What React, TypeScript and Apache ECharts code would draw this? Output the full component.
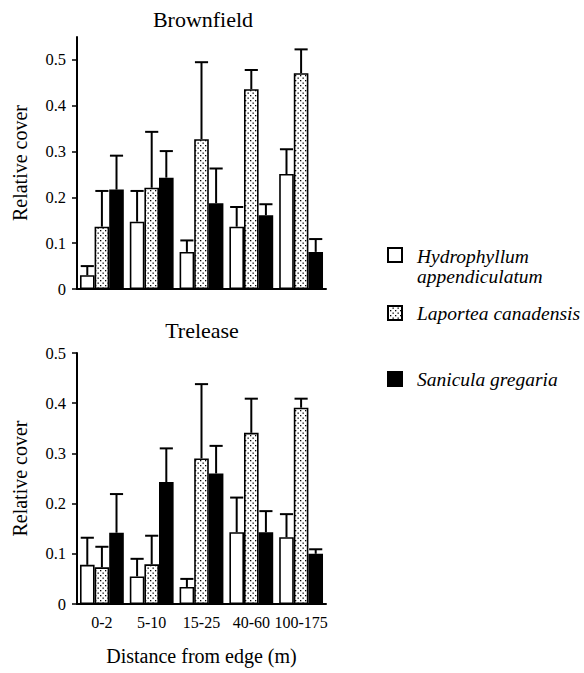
import React, { useEffect, useRef } from "react";
import * as echarts from "echarts";

const categories = ["0-2", "5-10", "15-25", "40-60", "100-175"];
const speciesNames = ["Hydrophyllum appendiculatum", "Laportea canadensis", "Sanicula gregaria"];

// Brownfield means and upper error-bar ends
const brownHydro = [0.03, 0.147, 0.081, 0.136, 0.251];
const brownHydroHi = [0.05, 0.214, 0.106, 0.179, 0.305];
const brownLaport = [0.136, 0.221, 0.327, 0.436, 0.471];
const brownLaportHi = [0.214, 0.343, 0.495, 0.478, 0.523];
const brownSanic = [0.217, 0.243, 0.187, 0.161, 0.081];
const brownSanicHi = [0.291, 0.301, 0.263, 0.185, 0.109];

// Trelease means and upper error-bar ends
const treHydro = [0.078, 0.055, 0.034, 0.143, 0.133];
const treHydroHi = [0.132, 0.09, 0.05, 0.212, 0.179];
const treLaport = [0.073, 0.079, 0.29, 0.341, 0.391];
const treLaportHi = [0.114, 0.136, 0.438, 0.409, 0.409];
const treSanic = [0.142, 0.243, 0.26, 0.143, 0.1];
const treSanicHi = [0.219, 0.31, 0.315, 0.185, 0.109];

const yTicks = [0, 0.1, 0.2, 0.3, 0.4, 0.5];

const FONT = "Liberation Serif";
const GAP = 0.12;

function makeDots(): string {
  const c = document.createElement("canvas");
  c.width = 5;
  c.height = 5;
  const ctx = c.getContext("2d")!;
  ctx.fillStyle = "#fff";
  ctx.fillRect(0, 0, 5, 5);
  ctx.fillStyle = "#000";
  ctx.fillRect(0, 0, 1.3, 1.3);
  ctx.fillRect(2.5, 2.5, 1.3, 1.3);
  return c.toDataURL();
}

export default function App() {
  const ref = useRef<HTMLDivElement>(null);
  useEffect(() => {
    if (!ref.current) return;
    const chart = echarts.init(ref.current, null, { renderer: "svg" });
    const dots = makeDots();
    const fills: any[] = [
      "#ffffff",
      { image: dots, repeat: "repeat", imageWidth: 5, imageHeight: 5 },
      "#000000",
    ];
    const sets = [
      [brownHydro, brownLaport, brownSanic],
      [treHydro, treLaport, treSanic],
    ];
    const his = [
      [brownHydroHi, brownLaportHi, brownSanicHi],
      [treHydroHi, treLaportHi, treSanicHi],
    ];
    const series: any[] = [];
    for (let g = 0; g < 2; g++) {
      for (let k = 0; k < 3; k++) {
        series.push({
          type: "bar",
          name: speciesNames[k],
          xAxisIndex: g,
          yAxisIndex: g,
          data: sets[g][k],
          barGap: "0%",
          barCategoryGap: GAP * 100 + "%",
          itemStyle: { color: fills[k], borderColor: "#000", borderWidth: 1.6 },
          z: 2,
        });
      }
      for (let k = 0; k < 3; k++) {
        series.push({
          type: "custom",
          xAxisIndex: g,
          yAxisIndex: g,
          z: 3,
          data: sets[g][k].map((v, i) => [i, v, his[g][k][i]]),
          renderItem: (params: any, api: any) => {
            const x = api.value(0);
            const base = api.coord([x, api.value(1)]);
            const top = api.coord([x, api.value(2)]);
            const band = api.size([1, 0])[0];
            const gw = band * (1 - GAP);
            const bw = gw / 3;
            const cx = base[0] - gw / 2 + bw * (k + 0.5);
            const half = bw * 0.45;
            const st = { stroke: "#000", lineWidth: 2 };
            return {
              type: "group",
              children: [
                { type: "line", shape: { x1: cx, y1: base[1], x2: cx, y2: top[1] }, style: st },
                { type: "line", shape: { x1: cx - half, y1: top[1], x2: cx + half, y2: top[1] }, style: st },
              ],
            };
          },
        });
      }
    }
    const xAxisBase = (showLabels: boolean, gridIndex: number) => ({
      type: "category",
      gridIndex,
      data: categories,
      axisLine: { lineStyle: { color: "#000", width: 2 } },
      axisTick: { alignWithLabel: true, length: 6, lineStyle: { color: "#000", width: 2 } },
      axisLabel: {
        show: showLabels,
        interval: 0,
        color: "#000",
        fontFamily: FONT,
        fontSize: 16,
        margin: 10,
      },
      name: showLabels ? "Distance from edge (m)" : "",
      nameLocation: "middle",
      nameGap: 42,
      nameTextStyle: { color: "#000", fontFamily: FONT, fontSize: 20 },
    });
    const yAxisBase = (max: number, gridIndex: number) => ({
      type: "value",
      gridIndex,
      min: 0,
      max,
      interval: 0.1,
      splitLine: { show: false },
      axisLine: { show: true, lineStyle: { color: "#000", width: 2 } },
      axisTick: { show: true, length: 5, customValues: yTicks, lineStyle: { color: "#000", width: 1.5 } },
      axisLabel: {
        color: "#000",
        fontFamily: FONT,
        fontSize: 16.5,
        margin: 11,
        customValues: yTicks,
      },
      name: "Relative cover",
      nameLocation: "middle",
      nameRotate: 90,
      nameGap: 47,
      nameTextStyle: { color: "#000", fontFamily: FONT, fontSize: 20 },
    });
    const legendY = [255, 313, 379];
    const graphic: any[] = [
      { type: "text", x: 203, y: 19, style: { text: "Brownfield", fontFamily: FONT, fontSize: 22, fill: "#000", align: "center", verticalAlign: "middle" } },
      { type: "text", x: 202, y: 330, style: { text: "Trelease", fontFamily: FONT, fontSize: 22, fill: "#000", align: "center", verticalAlign: "middle" } },
    ];
    for (let k = 0; k < 3; k++) {
      graphic.push({
        type: "rect",
        shape: { x: 388, y: legendY[k] - 7, width: 14, height: 14 },
        style: { fill: fills[k], stroke: "#000", lineWidth: 2 },
      });
    }
    const legStyle = { fontFamily: FONT, fontSize: 19.5, fontStyle: "italic", fill: "#000" };
    graphic.push(
      { type: "text", x: 417, y: 246, style: { ...legStyle, text: "Hydrophyllum\nappendiculatum", lineHeight: 20, verticalAlign: "top" } },
      { type: "text", x: 417, y: 313, style: { ...legStyle, text: "Laportea canadensis", verticalAlign: "middle" } },
      { type: "text", x: 417, y: 379, style: { ...legStyle, text: "Sanicula gregaria", verticalAlign: "middle" } }
    );
    chart.setOption({
      animation: false,
      backgroundColor: "#fff",
      textStyle: { fontFamily: FONT },
      grid: [
        { left: 77, width: 249, top: 37, height: 252 },
        { left: 77, width: 249, top: 353, height: 251 },
      ],
      xAxis: [xAxisBase(false, 0), xAxisBase(true, 1)],
      yAxis: [yAxisBase(0.55, 0), yAxisBase(0.5, 1)],
      series,
      graphic,
    });
    return () => chart.dispose();
  }, []);
  return <div ref={ref} style={{ width: 584, height: 673, position: "absolute", left: 0, top: 0 }} />;
}
